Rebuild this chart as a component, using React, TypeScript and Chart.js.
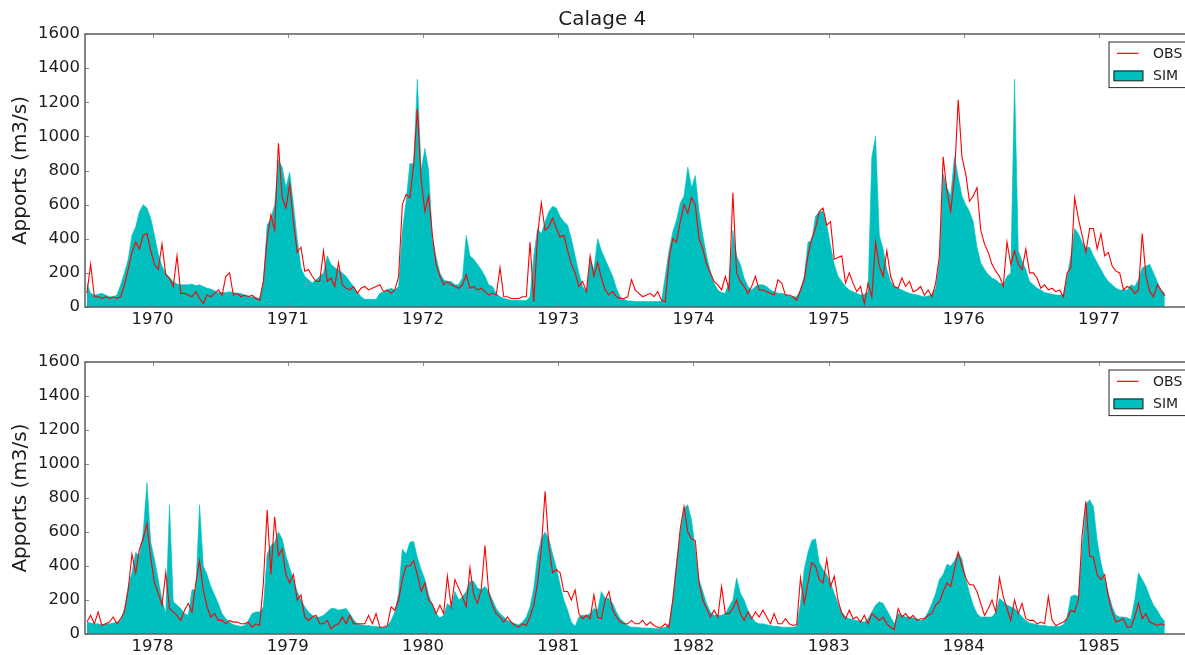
import React, { useEffect, useRef } from "react";
import { Chart, registerables } from "chart.js";

Chart.register(...registerables);

// Ten-day (dekad) mean discharges, hydrological years starting in July.
const STEPS_PER_YEAR = 36;
const TOP_START = 1969.5;
const BOTTOM_START = 1977.5;
const TOP_RANGE = [1969.5, 1977.78];
const BOTTOM_RANGE = [1977.5, 1985.78];

const TITLE = "Calage 4";
const Y_LABEL = "Apports (m3/s)";
const OBS_LABEL = "OBS";
const SIM_LABEL = "SIM";

const TOP_YEARS = [1970, 1971, 1972, 1973, 1974, 1975, 1976, 1977];
const BOTTOM_YEARS = [1978, 1979, 1980, 1981, 1982, 1983, 1984, 1985];
const Y_TICKS = [0, 200, 400, 600, 800, 1000, 1200, 1400, 1600];

const TOP_SIM = [
  // 1969-70
  140, 80, 70, 75, 80, 70, 60, 60, 70, 130, 200, 280, 420, 470, 560, 600, 580, 520,
  420, 310, 240, 200, 170, 150, 135, 130, 130, 130, 135, 125, 130, 120, 110, 105, 95, 85,
  // 1970-71
  85, 85, 90, 85, 80, 80, 70, 65, 60, 55, 50, 150, 480, 520, 600, 860, 820, 700,
  790, 600, 400, 230, 180, 160, 140, 160, 180, 200, 300, 250, 230, 220, 200, 180, 150, 120,
  // 1971-72
  90, 60, 45, 45, 45, 45, 80, 90, 100, 110, 100, 120, 450, 620, 840, 840, 1335, 800,
  930, 800, 400, 290, 200, 160, 150, 150, 130, 130, 170, 420, 300, 280, 250, 220, 180, 130,
  // 1972-73
  120, 80, 60, 50, 45, 40, 40, 40, 38, 38, 60, 300, 460, 430, 500, 560, 590, 580,
  530, 500, 480, 400, 300, 200, 120, 90, 280, 220, 400, 330, 280, 230, 180, 110, 60, 45,
  // 1973-74
  35, 35, 32, 32, 32, 32, 32, 32, 32, 35, 180, 330, 440, 510, 610, 650, 820, 700,
  770, 560, 420, 300, 210, 140, 100, 85, 80, 150, 450, 300, 250, 170, 120, 100, 120, 130,
  // 1974-75
  130, 120, 100, 90, 80, 80, 75, 65, 60, 60, 100, 180, 380, 390, 530, 560, 560, 480,
  360, 250, 180, 150, 120, 100, 90, 80, 70, 75, 90, 880, 1000, 420, 340, 220, 150, 120,
  // 1975-76
  110, 100, 90, 80, 75, 70, 65, 60, 65, 75, 110, 270, 780, 700, 650, 880, 760, 650,
  600, 560, 500, 350, 260, 220, 190, 170, 160, 140, 130, 180, 200, 1335, 330, 270, 220, 150,
  // 1976-77
  130, 110, 100, 85, 80, 75, 70, 70, 72, 180, 300, 460, 430, 380, 350, 350, 300, 260,
  220, 180, 150, 130, 110, 100, 100, 100, 130, 120, 160, 230, 240, 250, 200, 150, 100, 80,
];

const TOP_OBS = [
  // 1969-70
  80, 250, 60, 60, 50, 60, 50, 60, 50, 60, 130, 220, 320, 380, 340, 420, 430, 330,
  250, 220, 370, 190, 170, 120, 300, 80, 80, 70, 60, 90, 50, 20, 70, 60, 80, 100,
  // 1970-71
  70, 180, 200, 70, 80, 60, 70, 60, 70, 50, 40, 150, 400, 540, 450, 960, 640, 580,
  720, 500, 320, 350, 210, 220, 180, 150, 150, 330, 150, 170, 120, 260, 130, 110, 100, 120,
  // 1971-72
  80, 110, 120, 100, 110, 120, 130, 90, 100, 80, 100, 180, 600, 660, 640, 830, 1160, 750,
  560, 650, 420, 250, 180, 130, 150, 130, 120, 110, 130, 190, 110, 120, 100, 110, 90, 70,
  // 1972-73
  80, 70, 230, 60, 60, 50, 50, 50, 60, 60, 380, 30, 420, 610, 450, 470, 520, 460,
  410, 420, 330, 250, 200, 120, 150, 90, 300, 180, 260, 170, 100, 70, 90, 60, 50, 50,
  // 1973-74
  60, 160, 100, 80, 60, 70, 80, 60, 90, 40, 30, 280, 400, 380, 500, 600, 550, 640,
  600, 400, 340, 250, 200, 150, 130, 100, 180, 100, 670, 200, 150, 120, 80, 120, 180, 100,
  // 1974-75
  100, 90, 80, 70, 160, 140, 70, 70, 60, 40, 100, 160, 300, 400, 460, 560, 580, 480,
  500, 280, 290, 300, 140, 200, 140, 90, 120, 20, 140, 60, 380, 240, 180, 330, 180, 120,
  // 1975-76
  110, 170, 120, 150, 90, 100, 120, 70, 100, 60, 140, 300, 880, 680, 560, 760, 1215, 880,
  780, 620, 650, 700, 450, 370, 320, 250, 210, 180, 120, 380, 250, 330, 250, 220, 340, 200,
  // 1976-77
  200, 170, 110, 130, 100, 110, 90, 100, 60, 200, 230, 640, 520, 420, 320, 460, 460, 340,
  430, 300, 320, 240, 210, 200, 100, 120, 110, 80, 100, 430, 180, 90, 60, 130, 100, 65,
];

const BOTTOM_SIM = [
  // 1977-78
  70, 65, 60, 60, 55, 60, 60, 65, 70, 80, 150, 280, 360, 480, 460, 600, 890, 540,
  440, 320, 200, 120, 760, 190, 170, 150, 120, 110, 260, 260, 760, 400, 350, 280, 230, 180,
  // 1978-79
  120, 90, 70, 55, 50, 45, 50, 80, 120, 130, 130, 160, 470, 520, 540, 600, 560, 460,
  390, 320, 250, 200, 160, 130, 110, 100, 100, 110, 130, 150, 150, 140, 145, 150, 120, 85,
  // 1979-80
  60, 55, 50, 50, 45, 45, 40, 35, 45, 80, 130, 240, 500, 470, 540, 545, 450, 380,
  320, 230, 170, 120, 95, 110, 180, 160, 250, 200, 220, 250, 310, 310, 270, 260, 280, 250,
  // 1980-81
  200, 150, 120, 100, 80, 70, 60, 55, 70, 100, 160, 270, 460, 560, 600, 560, 470, 390,
  290, 200, 140, 70, 45, 100, 110, 110, 120, 150, 140, 250, 210, 210, 180, 130, 90, 70,
  // 1981-82
  50, 40, 40, 38, 35, 35, 35, 33, 33, 35, 40, 60, 200, 420, 600, 740, 760, 670,
  500, 320, 250, 180, 130, 110, 110, 110, 120, 160, 200, 330, 240, 200, 140, 100, 70, 60,
  // 1982-83
  60, 55, 50, 45, 45, 40, 40, 40, 40, 45, 180, 380, 480, 550, 560, 420, 380, 350,
  300, 240, 180, 130, 100, 90, 85, 80, 75, 70, 90, 130, 170, 190, 180, 140, 100, 60,
  // 1983-84
  120, 110, 100, 100, 95, 90, 80, 90, 130, 180, 240, 320, 350, 410, 400, 430, 480, 440,
  330, 240, 170, 120, 100, 100, 100, 100, 130, 210, 190, 170, 160, 150, 130, 100, 80, 65,
  // 1984-85
  60, 55, 50, 50, 45, 45, 45, 45, 55, 100, 220, 230, 220, 500, 760, 790, 750, 550,
  420, 330, 240, 160, 110, 100, 100, 95, 85, 200, 360, 320, 280, 220, 170, 140, 100, 75,
];

const BOTTOM_OBS = [
  // 1977-78
  70, 110, 60, 130, 50, 60, 70, 100, 60, 90, 130, 260, 470, 360, 500, 560, 650, 450,
  300, 240, 170, 360, 150, 130, 110, 80, 140, 180, 130, 300, 430, 260, 160, 100, 120, 80,
  // 1978-79
  80, 60, 80, 70, 70, 60, 60, 70, 40, 60, 50, 300, 730, 350, 690, 460, 500, 350,
  300, 350, 200, 230, 100, 80, 100, 110, 60, 60, 80, 30, 50, 60, 100, 60, 110, 60,
  // 1979-80
  60, 60, 60, 110, 60, 120, 40, 40, 50, 160, 140, 200, 320, 400, 400, 430, 350, 250,
  300, 200, 175, 120, 170, 120, 340, 160, 320, 270, 220, 160, 390, 230, 180, 260, 520, 240,
  // 1980-81
  170, 120, 100, 70, 100, 70, 50, 40, 60, 50, 100, 170, 300, 500, 840, 520, 360, 380,
  360, 250, 250, 200, 260, 120, 90, 110, 90, 230, 100, 90, 200, 250, 140, 100, 70, 60,
  // 1981-82
  60, 80, 60, 60, 80, 50, 70, 50, 40, 40, 60, 40, 200, 400, 620, 750, 600, 560,
  550, 300, 200, 150, 100, 140, 100, 280, 120, 120, 150, 200, 120, 80, 130, 90, 130, 100,
  // 1982-83
  140, 100, 60, 120, 60, 60, 90, 60, 50, 55, 330, 180, 300, 420, 400, 320, 300, 440,
  280, 340, 200, 120, 90, 140, 90, 100, 70, 110, 60, 120, 100, 80, 100, 60, 40, 25,
  // 1983-84
  150, 100, 120, 90, 110, 80, 90, 90, 110, 120, 170, 190, 250, 300, 280, 380, 480, 400,
  330, 290, 290, 250, 180, 110, 150, 200, 130, 330, 220, 150, 80, 200, 120, 180, 90, 80,
  // 1984-85
  80, 60, 70, 60, 220, 80, 50, 60, 70, 90, 140, 130, 200, 580, 780, 460, 450, 350,
  320, 350, 220, 130, 70, 80, 90, 40, 40, 100, 180, 90, 120, 70, 60, 50, 60, 50,
];

const FONT = "'DejaVu Sans', 'Liberation Sans', sans-serif";
const TEXT_COLOR = "#1c1c1c";
const FRAME_COLOR = "#5e5e5e";
const OBS_COLOR = "#ff0000";
const SIM_COLOR = "#00bfbf";

function toPoints(values: number[], start: number) {
  return values.map((v, i) => ({ x: start + (i + 0.5) / STEPS_PER_YEAR, y: v }));
}

// Frame on all four sides, inward tick marks and a boxed legend.
const framePlugin = {
  id: "frameAndLegend",
  afterDatasetsDraw(chart: any) {
    const { ctx, chartArea: a, scales } = chart;
    ctx.save();

    ctx.strokeStyle = "#8a8a8a";
    ctx.lineWidth = 1;
    ctx.beginPath();
    scales.x.ticks.forEach((t: any) => {
      const px = Math.round(scales.x.getPixelForValue(t.value)) + 0.5;
      ctx.moveTo(px, a.top);
      ctx.lineTo(px, a.top + 4);
      ctx.moveTo(px, a.bottom);
      ctx.lineTo(px, a.bottom - 4);
    });
    scales.y.ticks.forEach((t: any) => {
      const py = Math.round(scales.y.getPixelForValue(t.value)) + 0.5;
      ctx.moveTo(a.left, py);
      ctx.lineTo(a.left + 4, py);
      ctx.moveTo(a.right, py);
      ctx.lineTo(a.right - 4, py);
    });
    ctx.stroke();

    ctx.strokeStyle = FRAME_COLOR;
    ctx.lineWidth = 1.5;
    ctx.strokeRect(a.left, a.top, a.right - a.left, a.bottom - a.top);

    // legend
    const [obs, sim] = chart.data.datasets;
    const lx = a.right - 96;
    const ly = a.top + 7.5;
    const lw = 89.5;
    const lh = 45.6;
    ctx.fillStyle = "#ffffff";
    ctx.fillRect(lx, ly, lw, lh);
    ctx.strokeStyle = "#2a2a2a";
    ctx.lineWidth = 1;
    ctx.strokeRect(lx + 0.5, ly + 0.5, lw, lh);

    ctx.strokeStyle = obs.borderColor;
    ctx.lineWidth = 1.2;
    ctx.beginPath();
    ctx.moveTo(lx + 8.5, ly + 11.8);
    ctx.lineTo(lx + 30, ly + 11.8);
    ctx.stroke();

    ctx.fillStyle = sim.backgroundColor;
    ctx.fillRect(lx + 5, ly + 29, 29.5, 10.3);
    ctx.strokeStyle = "#1a1a1a";
    ctx.lineWidth = 1;
    ctx.strokeRect(lx + 5.5, ly + 29.5, 29, 9.8);

    ctx.fillStyle = TEXT_COLOR;
    ctx.font = `14px ${FONT}`;
    ctx.textAlign = "left";
    ctx.textBaseline = "middle";
    ctx.fillText(obs.label, lx + 44.5, ly + 12.5);
    ctx.fillText(sim.label, lx + 44.5, ly + 34.5);

    ctx.restore();
  },
};

type PanelProps = {
  obs: number[];
  sim: number[];
  start: number;
  range: number[];
  years: number[];
  showTitle: boolean;
  padTop: number;
  height: number;
  xHeight: number;
};

function Panel(props: PanelProps) {
  const ref = useRef<HTMLCanvasElement | null>(null);

  useEffect(() => {
    const canvas = ref.current;
    if (!canvas) return;
    const chart = new Chart(canvas, {
      type: "line",
      data: {
        datasets: [
          {
            label: OBS_LABEL,
            data: toPoints(props.obs, props.start),
            borderColor: OBS_COLOR,
            borderWidth: 1.1,
            pointRadius: 0,
            fill: false,
            tension: 0,
          },
          {
            label: SIM_LABEL,
            data: toPoints(props.sim, props.start),
            borderColor: SIM_COLOR,
            backgroundColor: SIM_COLOR,
            borderWidth: 0.6,
            pointRadius: 0,
            fill: "origin",
            tension: 0,
          },
        ],
      },
      options: {
        responsive: false,
        animation: false,
        events: [],
        layout: { padding: { top: props.padTop, right: 10.5, left: 0, bottom: 0 } },
        plugins: {
          legend: { display: false },
          tooltip: { enabled: false },
          title: {
            display: props.showTitle,
            text: TITLE,
            color: TEXT_COLOR,
            font: { family: FONT, size: 20, weight: "normal" },
            padding: { top: 8, bottom: 2 },
          },
        },
        scales: {
          x: {
            type: "linear",
            min: props.range[0],
            max: props.range[1],
            grid: { display: false, drawTicks: false },
            border: { display: false },
            afterBuildTicks: (s: any) => {
              s.ticks = props.years.map((v) => ({ value: v }));
            },
            afterFit: (s: any) => {
              s.height = props.xHeight;
            },
            ticks: {
              color: TEXT_COLOR,
              font: { family: FONT, size: 16.5 },
              padding: 2.5,
              maxRotation: 0,
              autoSkip: false,
              callback: (v: any) => String(v),
            },
          },
          y: {
            min: 0,
            max: 1600,
            grid: { display: false, drawTicks: false },
            border: { display: false },
            afterBuildTicks: (s: any) => {
              s.ticks = Y_TICKS.map((v) => ({ value: v }));
            },
            afterFit: (s: any) => {
              s.width = 85;
            },
            ticks: {
              color: TEXT_COLOR,
              font: { family: FONT, size: 16.5 },
              padding: 5,
              callback: (v: any) => String(v),
            },
            title: {
              display: true,
              text: Y_LABEL,
              color: TEXT_COLOR,
              font: { family: FONT, size: 20 },
              padding: { top: 9, bottom: 0 },
            },
          },
        },
      },
      plugins: [framePlugin],
    } as any);
    return () => chart.destroy();
  }, []);

  return <canvas ref={ref} width={1215} height={props.height} style={{ display: "block" }} />;
}

export default function App() {
  return (
    <div
      style={{
        position: "fixed",
        left: 0,
        top: 0,
        width: "1185px",
        height: "655px",
        overflow: "hidden",
        background: "#ffffff",
      }}
    >
      <div style={{ position: "absolute", left: 0, top: 0 }}>
        <Panel
          obs={TOP_OBS}
          sim={TOP_SIM}
          start={TOP_START}
          range={TOP_RANGE}
          years={TOP_YEARS}
          showTitle={true}
          padTop={0}
          height={330}
          xHeight={23}
        />
      </div>
      <div style={{ position: "absolute", left: 0, top: 330 }}>
        <Panel
          obs={BOTTOM_OBS}
          sim={BOTTOM_SIM}
          start={BOTTOM_START}
          range={BOTTOM_RANGE}
          years={BOTTOM_YEARS}
          showTitle={false}
          padTop={32}
          height={325}
          xHeight={21}
        />
      </div>
    </div>
  );
}
